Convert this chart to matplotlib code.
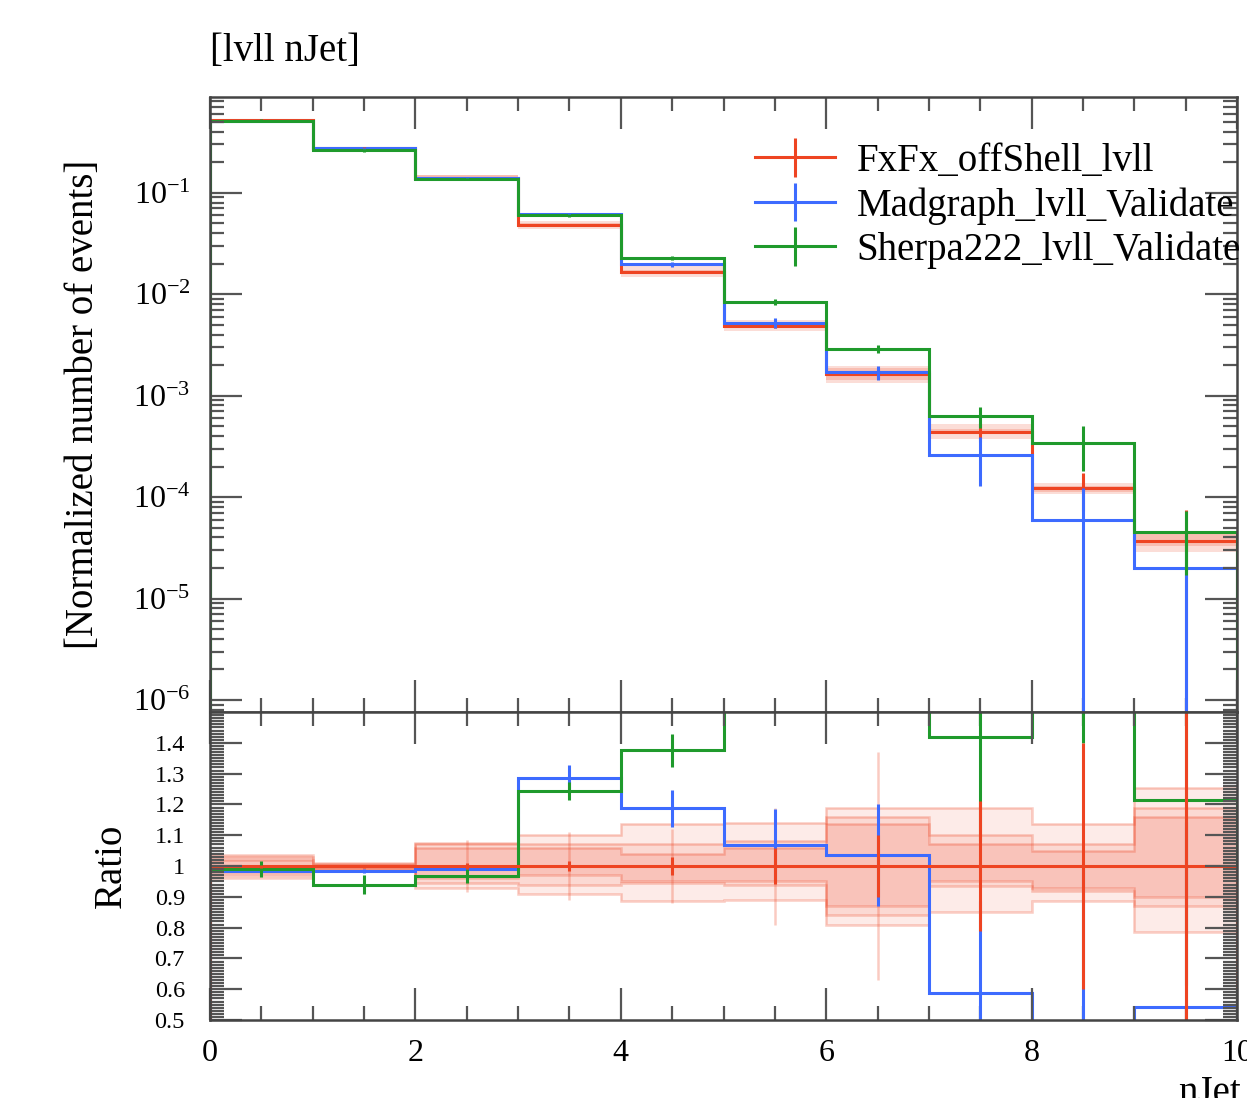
import numpy as np
import matplotlib
matplotlib.use("Agg")
import matplotlib.pyplot as plt
from matplotlib.ticker import MultipleLocator, FixedLocator, FixedFormatter, NullFormatter

plt.rcParams['font.family'] = ['Liberation Serif', 'DejaVu Serif']
plt.rcParams['mathtext.fontset'] = 'custom'
plt.rcParams['mathtext.rm'] = 'Liberation Serif'
plt.rcParams['mathtext.it'] = 'Liberation Serif:italic'

# nJet bins
edges = np.arange(0, 11)
centers = edges[:-1] + 0.5

labels = ["FxFx_offShell_lvll", "Madgraph_lvll_Validate", "Sherpa222_lvll_Validate"]
colors = ["#EE4422", "#3D6BFF", "#1F9A2C"]

# normalized distributions (upper panel)
fxfx = [0.52, 0.278, 0.14, 0.048, 0.0166, 0.0049, 0.00165, 4.4e-4, 1.22e-4, 3.7e-5]
fxfx_err = [0.0026, 0.0014, 0.0014, 0.0007, 0.0005, 0.00028, 0.000165, 9.2e-5, 4.9e-5, 3.7e-5]
madgraph = [0.512, 0.274, 0.139, 0.0617, 0.0197, 0.0052, 0.0017, 2.58e-4, 6.0e-5, 2.0e-5]
madgraph_err = [0.0025, 0.0014, 0.0014, 0.0019, 0.001, 0.0006, 0.00028, 1.3e-4, 6.2e-5, 2.2e-5]
sherpa = [0.515, 0.261, 0.136, 0.0597, 0.0228, 0.0084, 0.0029, 6.25e-4, 3.4e-4, 4.5e-5]
sherpa_err = [0.014, 0.0083, 0.0034, 0.0014, 0.0009, 0.0005, 0.00025, 1.5e-4, 1.6e-4, 2.8e-5]

# ratios to FxFx (lower panel)
fxfx_ratio = [1, 1, 1, 1, 1, 1, 1, 1, 1, 1]
fxfx_ratio_err = [0.005, 0.005, 0.01, 0.015, 0.03, 0.057, 0.1, 0.21, 0.4, 1.0]
mg_ratio = [0.985, 0.984, 0.99, 1.287, 1.187, 1.067, 1.036, 0.587, 0.49, 0.543]
mg_ratio_err = [0.005, 0.005, 0.01, 0.04, 0.06, 0.117, 0.165, 0.3, 0.5, 0.6]
sh_ratio = [0.99, 0.94, 0.968, 1.243, 1.376, 1.71, 1.76, 1.42, 2.8, 1.214]
sh_ratio_err = [0.027, 0.03, 0.024, 0.03, 0.054, 0.1, 0.15, 0.34, 1.4, 0.6]

# FxFx systematic variations (ratio to nominal)
var_up1 = [1.036, 1.01, 1.076, 1.10, 1.135, 1.14, 1.19, 1.19, 1.135, 1.255]
var_up2 = [1.03, 1.008, 1.07, 1.07, 1.07, 1.08, 1.16, 1.10, 1.07, 1.19]
var_up3 = [1.02, 1.005, 1.06, 1.06, 1.04, 1.06, 1.135, 1.07, 1.05, 1.16]
var_dn3 = [0.98, 0.995, 0.96, 0.97, 0.95, 0.95, 0.87, 0.95, 0.93, 0.90]
var_dn2 = [0.97, 0.992, 0.945, 0.94, 0.945, 0.94, 0.84, 0.935, 0.92, 0.87]
var_dn1 = [0.962, 0.99, 0.93, 0.91, 0.885, 0.89, 0.81, 0.85, 0.885, 0.785]
var_err = [0, 0, 0.085, 0.11, 0.12, 0.19, 0.37, 0, 0, 0]

lw = 2.2
fig = plt.figure(figsize=(12.47, 10.98), dpi=100)
ax = fig.add_axes([0.1684, 0.3515, 0.8236, 0.5602])
rax = fig.add_axes([0.1684, 0.071, 0.8236, 0.2805])

red = np.array(fxfx)

# --- upper panel ---
ax.stairs(red * np.array(var_up1), edges, baseline=red * np.array(var_dn1),
          fill=True, color=colors[0], alpha=0.18, lw=0)
ax.stairs(red * np.array(var_up3), edges, baseline=red * np.array(var_dn3),
          fill=True, color=colors[0], alpha=0.2, lw=0)
series = [(fxfx, fxfx_err), (madgraph, madgraph_err), (sherpa, sherpa_err)]
for (vals, errs), c in zip(series, colors):
    ax.stairs(vals, edges, color=c, lw=lw)
    ax.errorbar(centers, vals, yerr=errs, fmt='none', ecolor=c, elinewidth=lw)

ax.set_yscale('log')
ax.set_xlim(0, 10)
ax.set_ylim(7.6e-7, 0.88)
ax.xaxis.set_major_locator(MultipleLocator(2))
ax.xaxis.set_minor_locator(MultipleLocator(0.5))
ax.xaxis.set_major_formatter(NullFormatter())
ax.set_ylabel("[Normalized number of events]", fontsize=28, labelpad=22)

handles = []
for c in colors:
    handles.append(ax.errorbar([], [], yerr=[], color=c, lw=lw, elinewidth=lw))
ax.legend(handles, labels, loc='upper left', bbox_to_anchor=(0.531, 0.925),
          frameon=False, fontsize=28, borderpad=0, borderaxespad=0,
          handlelength=2.05, handletextpad=0.55, labelspacing=0.18)

# --- ratio panel ---
for lo, hi, a in [(var_dn1, var_up1, 0.1), (var_dn2, var_up2, 0.1), (var_dn3, var_up3, 0.14)]:
    rax.stairs(hi, edges, baseline=lo, fill=True, color=colors[0], alpha=a, lw=0)
for v in [var_up1, var_up2, var_up3, var_dn3, var_dn2, var_dn1]:
    rax.stairs(v, edges, color=colors[0], alpha=0.28, lw=1.8)
rax.errorbar(centers, fxfx_ratio, yerr=var_err, fmt='none', ecolor=colors[0],
             elinewidth=1.8, alpha=0.28)

for vals, errs, c in [(mg_ratio, mg_ratio_err, colors[1]), (sh_ratio, sh_ratio_err, colors[2]),
                      (fxfx_ratio, fxfx_ratio_err, colors[0])]:
    rax.stairs(vals, edges, color=c, lw=lw)
    rax.errorbar(centers, vals, yerr=errs, fmt='none', ecolor=c, elinewidth=lw)

rax.set_xlim(0, 10)
rax.set_ylim(0.5, 1.5)
rax.xaxis.set_major_locator(MultipleLocator(2))
rax.xaxis.set_minor_locator(MultipleLocator(0.5))
rticks = [0.5, 0.6, 0.7, 0.8, 0.9, 1.0, 1.1, 1.2, 1.3, 1.4]
rax.yaxis.set_major_locator(FixedLocator(rticks))
rax.yaxis.set_major_formatter(FixedFormatter(['0.5', '0.6', '0.7', '0.8', '0.9', '1',
                                              '1.1', '1.2', '1.3', '1.4']))
rax.yaxis.set_minor_locator(MultipleLocator(0.01))
rax.set_ylabel("Ratio", fontsize=28, labelpad=18)

for a in (ax, rax):
    a.tick_params(which='both', direction='in', top=True, right=True,
                  color='#555555', width=1.6, labelsize=23)
    a.tick_params(which='major', length=23)
    a.tick_params(which='minor', length=10)
    a.tick_params(axis='x', which='major', pad=14)
    a.tick_params(axis='y', which='major', pad=14)
    for s in a.spines.values():
        s.set_color('#444444')
        s.set_linewidth(1.8)
rax.tick_params(axis='y', which='major', labelsize=17.5, pad=18)

fig.text(0.1684, 0.953, "[lvll nJet]", fontsize=28, ha='left', va='center')
fig.text(0.995, 1 - 1075 / 1098, "nJet", fontsize=28, ha='right', va='top')

fig.savefig("out.png", dpi=100)
